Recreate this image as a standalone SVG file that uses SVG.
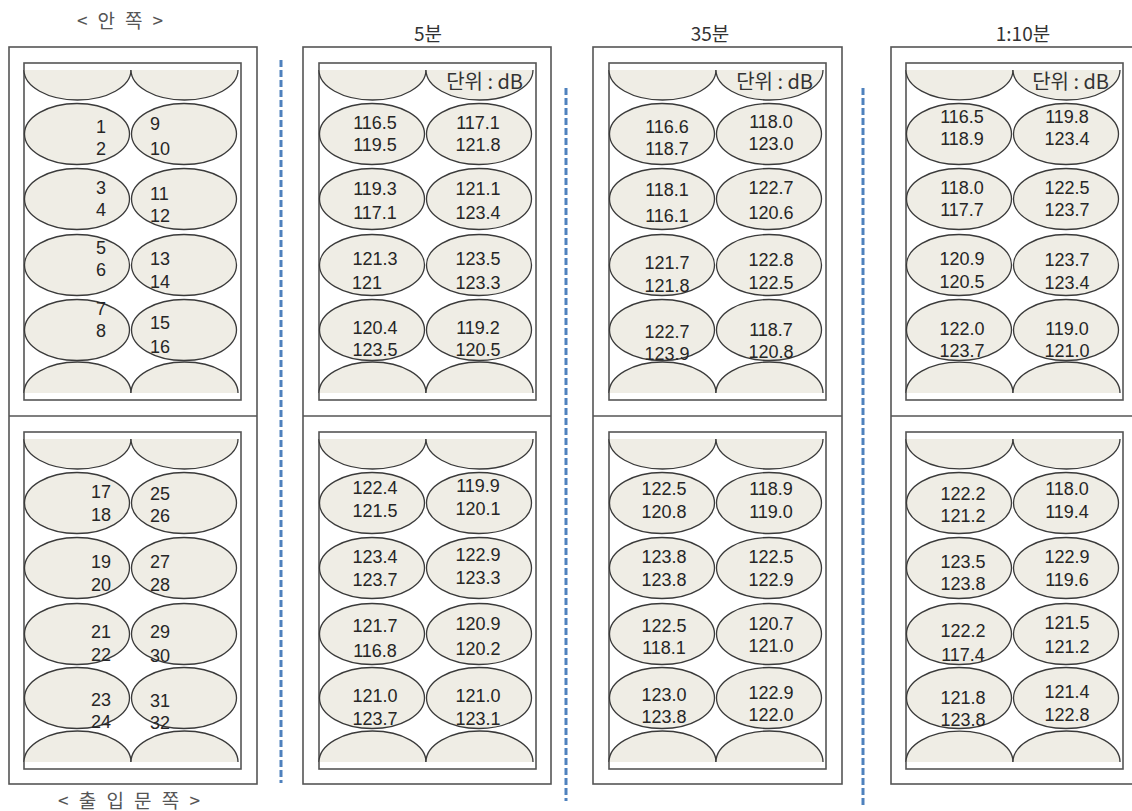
<svg xmlns="http://www.w3.org/2000/svg" width="1132" height="811" viewBox="0 0 1132 811">
<style>
.ol{fill:#fff;stroke:#555;stroke-width:1.6}
.in{fill:#fff;stroke:#555;stroke-width:1.6}
.dv{stroke:#555;stroke-width:1.6}
.el{fill:#efede5;stroke:#3a3a3a;stroke-width:1.3}
.t{font-family:"Liberation Sans",Arial,sans-serif;font-size:18px;fill:#262626}
.m{text-anchor:middle}
.s{text-anchor:start}
.u{font-family:"Noto Sans CJK KR",sans-serif;font-size:20px;fill:#333;text-anchor:end}
.h{font-family:"Noto Sans CJK KR",sans-serif;font-size:19px;fill:#333;text-anchor:middle}
.g{font-family:"Noto Sans CJK KR",sans-serif;font-size:19px;fill:#555}
.dash{stroke:#4f81bd;stroke-width:3;stroke-dasharray:7 3;fill:none}
</style>

<text class="g" x="77" y="28" textLength="86" lengthAdjust="spacing">&lt; 안 쪽 &gt;</text>
<text class="g" x="58" y="808" textLength="142" lengthAdjust="spacing">&lt; 출 입 문 쪽 &gt;</text>
<text class="h" x="428" y="41">5분</text>
<text class="h" x="710" y="41">35분</text>
<text class="h" x="1023" y="41">1:10분</text>

<g id="connectors">
<line class="dash" x1="281" y1="60" x2="281" y2="783"/>
<line class="dash" x1="566" y1="88" x2="566" y2="801"/>
<line class="dash" x1="863" y1="88" x2="863" y2="805"/>
</g>

<!-- Panel 0 layout -->
<g id="panel-layout">
<rect class="ol" x="9" y="47" width="248" height="737"/>
<line class="dv" x1="9" y1="416" x2="257" y2="416"/>
<rect class="in" x="24" y="63" width="217" height="337"/>
<rect class="in" x="24" y="432" width="217" height="337"/>
<path class="el" d="M24,70 A53.5,30 0 0 0 131,70"/>
<path class="el" d="M131,70 A53.5,30 0 0 0 238,70"/>
<path class="el" d="M24,393 A53.5,31 0 0 1 131,393"/>
<path class="el" d="M131,393 A53.5,31 0 0 1 238,393"/>
<path class="el" d="M24,439 A53.5,30 0 0 0 131,439"/>
<path class="el" d="M131,439 A53.5,30 0 0 0 238,439"/>
<path class="el" d="M24,762 A53.5,31 0 0 1 131,762"/>
<path class="el" d="M131,762 A53.5,31 0 0 1 238,762"/>
</g>
<g id="seat-1-2"><ellipse class="el" cx="77" cy="134" rx="52.5" ry="30.5"/><text class="t m"><tspan x="101" y="133">1</tspan><tspan x="101" y="155">2</tspan></text></g>
<g id="seat-9-10"><ellipse class="el" cx="184" cy="134" rx="52.5" ry="30.5"/><text class="t s"><tspan x="150" y="130">9</tspan><tspan x="150" y="154.5">10</tspan></text></g>
<g id="seat-3-4"><ellipse class="el" cx="77" cy="199" rx="52.5" ry="30.5"/><text class="t m"><tspan x="101" y="194">3</tspan><tspan x="101" y="216">4</tspan></text></g>
<g id="seat-11-12"><ellipse class="el" cx="184" cy="199" rx="52.5" ry="30.5"/><text class="t s"><tspan x="150" y="199.5">11</tspan><tspan x="150" y="222">12</tspan></text></g>
<g id="seat-5-6"><ellipse class="el" cx="77" cy="265" rx="52.5" ry="30.5"/><text class="t m"><tspan x="101" y="254">5</tspan><tspan x="101" y="276">6</tspan></text></g>
<g id="seat-13-14"><ellipse class="el" cx="184" cy="265" rx="52.5" ry="30.5"/><text class="t s"><tspan x="150" y="265">13</tspan><tspan x="150" y="288">14</tspan></text></g>
<g id="seat-7-8"><ellipse class="el" cx="77" cy="330" rx="52.5" ry="30.5"/><text class="t m"><tspan x="101" y="315">7</tspan><tspan x="101" y="337">8</tspan></text></g>
<g id="seat-15-16"><ellipse class="el" cx="184" cy="330" rx="52.5" ry="30.5"/><text class="t s"><tspan x="150" y="329">15</tspan><tspan x="150" y="353">16</tspan></text></g>
<g id="seat-17-18"><ellipse class="el" cx="77" cy="503" rx="52.5" ry="30.5"/><text class="t m"><tspan x="101" y="498">17</tspan><tspan x="101" y="521">18</tspan></text></g>
<g id="seat-25-26"><ellipse class="el" cx="184" cy="503" rx="52.5" ry="30.5"/><text class="t s"><tspan x="150" y="499.5">25</tspan><tspan x="150" y="522">26</tspan></text></g>
<g id="seat-19-20"><ellipse class="el" cx="77" cy="568" rx="52.5" ry="30.5"/><text class="t m"><tspan x="101" y="568">19</tspan><tspan x="101" y="591">20</tspan></text></g>
<g id="seat-27-28"><ellipse class="el" cx="184" cy="568" rx="52.5" ry="30.5"/><text class="t s"><tspan x="150" y="568">27</tspan><tspan x="150" y="591">28</tspan></text></g>
<g id="seat-21-22"><ellipse class="el" cx="77" cy="634" rx="52.5" ry="30.5"/><text class="t m"><tspan x="101" y="638">21</tspan><tspan x="101" y="661">22</tspan></text></g>
<g id="seat-29-30"><ellipse class="el" cx="184" cy="634" rx="52.5" ry="30.5"/><text class="t s"><tspan x="150" y="638">29</tspan><tspan x="150" y="662">30</tspan></text></g>
<g id="seat-23-24"><ellipse class="el" cx="77" cy="698" rx="52.5" ry="30.5"/><text class="t m"><tspan x="101" y="706">23</tspan><tspan x="101" y="728">24</tspan></text></g>
<g id="seat-31-32"><ellipse class="el" cx="184" cy="698" rx="52.5" ry="30.5"/><text class="t s"><tspan x="150" y="707">31</tspan><tspan x="150" y="729">32</tspan></text></g>

<!-- Panel 5min -->
<g id="panel-5min">
<rect class="ol" x="303" y="47" width="248" height="737"/>
<line class="dv" x1="303" y1="416" x2="551" y2="416"/>
<rect class="in" x="319" y="63" width="217" height="337"/>
<rect class="in" x="319" y="432" width="217" height="337"/>
<path class="el" d="M319,70 A53.5,30 0 0 0 426,70"/>
<path class="el" d="M426,70 A53.5,30 0 0 0 533,70"/>
<path class="el" d="M319,393 A53.5,31 0 0 1 426,393"/>
<path class="el" d="M426,393 A53.5,31 0 0 1 533,393"/>
<path class="el" d="M319,439 A53.5,30 0 0 0 426,439"/>
<path class="el" d="M426,439 A53.5,30 0 0 0 533,439"/>
<path class="el" d="M319,762 A53.5,31 0 0 1 426,762"/>
<path class="el" d="M426,762 A53.5,31 0 0 1 533,762"/>
<text class="u" x="523" y="89">단위 : dB</text>
</g>
<g id="m5-r1l"><ellipse class="el" cx="372" cy="134" rx="52.5" ry="30.5"/><text class="t m"><tspan x="375" y="129">116.5</tspan><tspan x="375" y="151">119.5</tspan></text></g>
<g id="m5-r1r"><ellipse class="el" cx="479" cy="134" rx="52.5" ry="30.5"/><text class="t m"><tspan x="478" y="129">117.1</tspan><tspan x="478" y="151">121.8</tspan></text></g>
<g id="m5-r2l"><ellipse class="el" cx="372" cy="199" rx="52.5" ry="30.5"/><text class="t m"><tspan x="375" y="195">119.3</tspan><tspan x="375" y="219">117.1</tspan></text></g>
<g id="m5-r2r"><ellipse class="el" cx="479" cy="199" rx="52.5" ry="30.5"/><text class="t m"><tspan x="478" y="195">121.1</tspan><tspan x="478" y="219">123.4</tspan></text></g>
<g id="m5-r3l"><ellipse class="el" cx="372" cy="265" rx="52.5" ry="30.5"/><text class="t m"><tspan x="375" y="265">121.3</tspan><tspan x="367" y="289">121</tspan></text></g>
<g id="m5-r3r"><ellipse class="el" cx="479" cy="265" rx="52.5" ry="30.5"/><text class="t m"><tspan x="478" y="265">123.5</tspan><tspan x="478" y="289">123.3</tspan></text></g>
<g id="m5-r4l"><ellipse class="el" cx="372" cy="330" rx="52.5" ry="30.5"/><text class="t m"><tspan x="375" y="334">120.4</tspan><tspan x="375" y="356">123.5</tspan></text></g>
<g id="m5-r4r"><ellipse class="el" cx="479" cy="330" rx="52.5" ry="30.5"/><text class="t m"><tspan x="478" y="334">119.2</tspan><tspan x="478" y="356">120.5</tspan></text></g>
<g id="m5-r5l"><ellipse class="el" cx="372" cy="503" rx="52.5" ry="30.5"/><text class="t m"><tspan x="375" y="494">122.4</tspan><tspan x="375" y="517">121.5</tspan></text></g>
<g id="m5-r5r"><ellipse class="el" cx="479" cy="503" rx="52.5" ry="30.5"/><text class="t m"><tspan x="478" y="492">119.9</tspan><tspan x="478" y="515">120.1</tspan></text></g>
<g id="m5-r6l"><ellipse class="el" cx="372" cy="568" rx="52.5" ry="30.5"/><text class="t m"><tspan x="375" y="563">123.4</tspan><tspan x="375" y="586">123.7</tspan></text></g>
<g id="m5-r6r"><ellipse class="el" cx="479" cy="568" rx="52.5" ry="30.5"/><text class="t m"><tspan x="478" y="561">122.9</tspan><tspan x="478" y="584">123.3</tspan></text></g>
<g id="m5-r7l"><ellipse class="el" cx="372" cy="634" rx="52.5" ry="30.5"/><text class="t m"><tspan x="375" y="632">121.7</tspan><tspan x="375" y="657">116.8</tspan></text></g>
<g id="m5-r7r"><ellipse class="el" cx="479" cy="634" rx="52.5" ry="30.5"/><text class="t m"><tspan x="478" y="630">120.9</tspan><tspan x="478" y="655">120.2</tspan></text></g>
<g id="m5-r8l"><ellipse class="el" cx="372" cy="698" rx="52.5" ry="30.5"/><text class="t m"><tspan x="375" y="702">121.0</tspan><tspan x="375" y="725">123.7</tspan></text></g>
<g id="m5-r8r"><ellipse class="el" cx="479" cy="698" rx="52.5" ry="30.5"/><text class="t m"><tspan x="478" y="702">121.0</tspan><tspan x="478" y="725">123.1</tspan></text></g>

<!-- Panel 35min -->
<g id="panel-35min">
<rect class="ol" x="593" y="47" width="249" height="737"/>
<line class="dv" x1="593" y1="416" x2="842" y2="416"/>
<rect class="in" x="609" y="63" width="217" height="337"/>
<rect class="in" x="609" y="432" width="217" height="337"/>
<path class="el" d="M609,70 A53.5,30 0 0 0 716,70"/>
<path class="el" d="M716,70 A53.5,30 0 0 0 823,70"/>
<path class="el" d="M609,393 A53.5,31 0 0 1 716,393"/>
<path class="el" d="M716,393 A53.5,31 0 0 1 823,393"/>
<path class="el" d="M609,439 A53.5,30 0 0 0 716,439"/>
<path class="el" d="M716,439 A53.5,30 0 0 0 823,439"/>
<path class="el" d="M609,762 A53.5,31 0 0 1 716,762"/>
<path class="el" d="M716,762 A53.5,31 0 0 1 823,762"/>
<text class="u" x="813" y="89">단위 : dB</text>
</g>
<g id="m35-r1l"><ellipse class="el" cx="662" cy="134" rx="52.5" ry="30.5"/><text class="t m"><tspan x="667" y="133">116.6</tspan><tspan x="667" y="155">118.7</tspan></text></g>
<g id="m35-r1r"><ellipse class="el" cx="769" cy="134" rx="52.5" ry="30.5"/><text class="t m"><tspan x="771" y="128">118.0</tspan><tspan x="771" y="150">123.0</tspan></text></g>
<g id="m35-r2l"><ellipse class="el" cx="662" cy="199" rx="52.5" ry="30.5"/><text class="t m"><tspan x="667" y="196">118.1</tspan><tspan x="667" y="222">116.1</tspan></text></g>
<g id="m35-r2r"><ellipse class="el" cx="769" cy="199" rx="52.5" ry="30.5"/><text class="t m"><tspan x="771" y="194">122.7</tspan><tspan x="771" y="219">120.6</tspan></text></g>
<g id="m35-r3l"><ellipse class="el" cx="662" cy="265" rx="52.5" ry="30.5"/><text class="t m"><tspan x="667" y="269">121.7</tspan><tspan x="667" y="292">121.8</tspan></text></g>
<g id="m35-r3r"><ellipse class="el" cx="769" cy="265" rx="52.5" ry="30.5"/><text class="t m"><tspan x="771" y="266">122.8</tspan><tspan x="771" y="289">122.5</tspan></text></g>
<g id="m35-r4l"><ellipse class="el" cx="662" cy="330" rx="52.5" ry="30.5"/><text class="t m"><tspan x="667" y="338">122.7</tspan><tspan x="667" y="360">123.9</tspan></text></g>
<g id="m35-r4r"><ellipse class="el" cx="769" cy="330" rx="52.5" ry="30.5"/><text class="t m"><tspan x="771" y="336">118.7</tspan><tspan x="771" y="358">120.8</tspan></text></g>
<g id="m35-r5l"><ellipse class="el" cx="662" cy="503" rx="52.5" ry="30.5"/><text class="t m"><tspan x="664" y="494.5">122.5</tspan><tspan x="664" y="518">120.8</tspan></text></g>
<g id="m35-r5r"><ellipse class="el" cx="769" cy="503" rx="52.5" ry="30.5"/><text class="t m"><tspan x="771" y="494.5">118.9</tspan><tspan x="771" y="518">119.0</tspan></text></g>
<g id="m35-r6l"><ellipse class="el" cx="662" cy="568" rx="52.5" ry="30.5"/><text class="t m"><tspan x="664" y="563">123.8</tspan><tspan x="664" y="586">123.8</tspan></text></g>
<g id="m35-r6r"><ellipse class="el" cx="769" cy="568" rx="52.5" ry="30.5"/><text class="t m"><tspan x="771" y="563">122.5</tspan><tspan x="771" y="586">122.9</tspan></text></g>
<g id="m35-r7l"><ellipse class="el" cx="662" cy="634" rx="52.5" ry="30.5"/><text class="t m"><tspan x="664" y="632">122.5</tspan><tspan x="664" y="654">118.1</tspan></text></g>
<g id="m35-r7r"><ellipse class="el" cx="769" cy="634" rx="52.5" ry="30.5"/><text class="t m"><tspan x="771" y="630">120.7</tspan><tspan x="771" y="652">121.0</tspan></text></g>
<g id="m35-r8l"><ellipse class="el" cx="662" cy="698" rx="52.5" ry="30.5"/><text class="t m"><tspan x="664" y="701">123.0</tspan><tspan x="664" y="723">123.8</tspan></text></g>
<g id="m35-r8r"><ellipse class="el" cx="769" cy="698" rx="52.5" ry="30.5"/><text class="t m"><tspan x="771" y="699">122.9</tspan><tspan x="771" y="721">122.0</tspan></text></g>

<!-- Panel 1:10 -->
<g id="panel-70min">
<rect class="ol" x="891" y="47" width="248" height="737"/>
<line class="dv" x1="891" y1="416" x2="1139" y2="416"/>
<rect class="in" x="906" y="63" width="217" height="337"/>
<rect class="in" x="906" y="432" width="217" height="337"/>
<path class="el" d="M906,70 A53.5,30 0 0 0 1013,70"/>
<path class="el" d="M1013,70 A53.5,30 0 0 0 1120,70"/>
<path class="el" d="M906,393 A53.5,31 0 0 1 1013,393"/>
<path class="el" d="M1013,393 A53.5,31 0 0 1 1120,393"/>
<path class="el" d="M906,439 A53.5,30 0 0 0 1013,439"/>
<path class="el" d="M1013,439 A53.5,30 0 0 0 1120,439"/>
<path class="el" d="M906,762 A53.5,31 0 0 1 1013,762"/>
<path class="el" d="M1013,762 A53.5,31 0 0 1 1120,762"/>
<text class="u" x="1109" y="89">단위 : dB</text>
</g>
<g id="m70-r1l"><ellipse class="el" cx="959" cy="134" rx="52.5" ry="30.5"/><text class="t m"><tspan x="962" y="123">116.5</tspan><tspan x="962" y="145">118.9</tspan></text></g>
<g id="m70-r1r"><ellipse class="el" cx="1066" cy="134" rx="52.5" ry="30.5"/><text class="t m"><tspan x="1067" y="123">119.8</tspan><tspan x="1067" y="145">123.4</tspan></text></g>
<g id="m70-r2l"><ellipse class="el" cx="959" cy="199" rx="52.5" ry="30.5"/><text class="t m"><tspan x="962" y="194">118.0</tspan><tspan x="962" y="216">117.7</tspan></text></g>
<g id="m70-r2r"><ellipse class="el" cx="1066" cy="199" rx="52.5" ry="30.5"/><text class="t m"><tspan x="1067" y="194">122.5</tspan><tspan x="1067" y="216">123.7</tspan></text></g>
<g id="m70-r3l"><ellipse class="el" cx="959" cy="265" rx="52.5" ry="30.5"/><text class="t m"><tspan x="962" y="264.5">120.9</tspan><tspan x="962" y="288">120.5</tspan></text></g>
<g id="m70-r3r"><ellipse class="el" cx="1066" cy="265" rx="52.5" ry="30.5"/><text class="t m"><tspan x="1067" y="266">123.7</tspan><tspan x="1067" y="289">123.4</tspan></text></g>
<g id="m70-r4l"><ellipse class="el" cx="959" cy="330" rx="52.5" ry="30.5"/><text class="t m"><tspan x="962" y="334.5">122.0</tspan><tspan x="962" y="357">123.7</tspan></text></g>
<g id="m70-r4r"><ellipse class="el" cx="1066" cy="330" rx="52.5" ry="30.5"/><text class="t m"><tspan x="1067" y="334.5">119.0</tspan><tspan x="1067" y="357">121.0</tspan></text></g>
<g id="m70-r5l"><ellipse class="el" cx="959" cy="503" rx="52.5" ry="30.5"/><text class="t m"><tspan x="963" y="499.5">122.2</tspan><tspan x="963" y="522">121.2</tspan></text></g>
<g id="m70-r5r"><ellipse class="el" cx="1066" cy="503" rx="52.5" ry="30.5"/><text class="t m"><tspan x="1067" y="494.5">118.0</tspan><tspan x="1067" y="518">119.4</tspan></text></g>
<g id="m70-r6l"><ellipse class="el" cx="959" cy="568" rx="52.5" ry="30.5"/><text class="t m"><tspan x="963" y="568">123.5</tspan><tspan x="963" y="590">123.8</tspan></text></g>
<g id="m70-r6r"><ellipse class="el" cx="1066" cy="568" rx="52.5" ry="30.5"/><text class="t m"><tspan x="1067" y="563">122.9</tspan><tspan x="1067" y="586">119.6</tspan></text></g>
<g id="m70-r7l"><ellipse class="el" cx="959" cy="634" rx="52.5" ry="30.5"/><text class="t m"><tspan x="963" y="637">122.2</tspan><tspan x="963" y="661">117.4</tspan></text></g>
<g id="m70-r7r"><ellipse class="el" cx="1066" cy="634" rx="52.5" ry="30.5"/><text class="t m"><tspan x="1067" y="629">121.5</tspan><tspan x="1067" y="653">121.2</tspan></text></g>
<g id="m70-r8l"><ellipse class="el" cx="959" cy="698" rx="52.5" ry="30.5"/><text class="t m"><tspan x="963" y="704">121.8</tspan><tspan x="963" y="726">123.8</tspan></text></g>
<g id="m70-r8r"><ellipse class="el" cx="1066" cy="698" rx="52.5" ry="30.5"/><text class="t m"><tspan x="1067" y="698">121.4</tspan><tspan x="1067" y="721">122.8</tspan></text></g>
</svg>
